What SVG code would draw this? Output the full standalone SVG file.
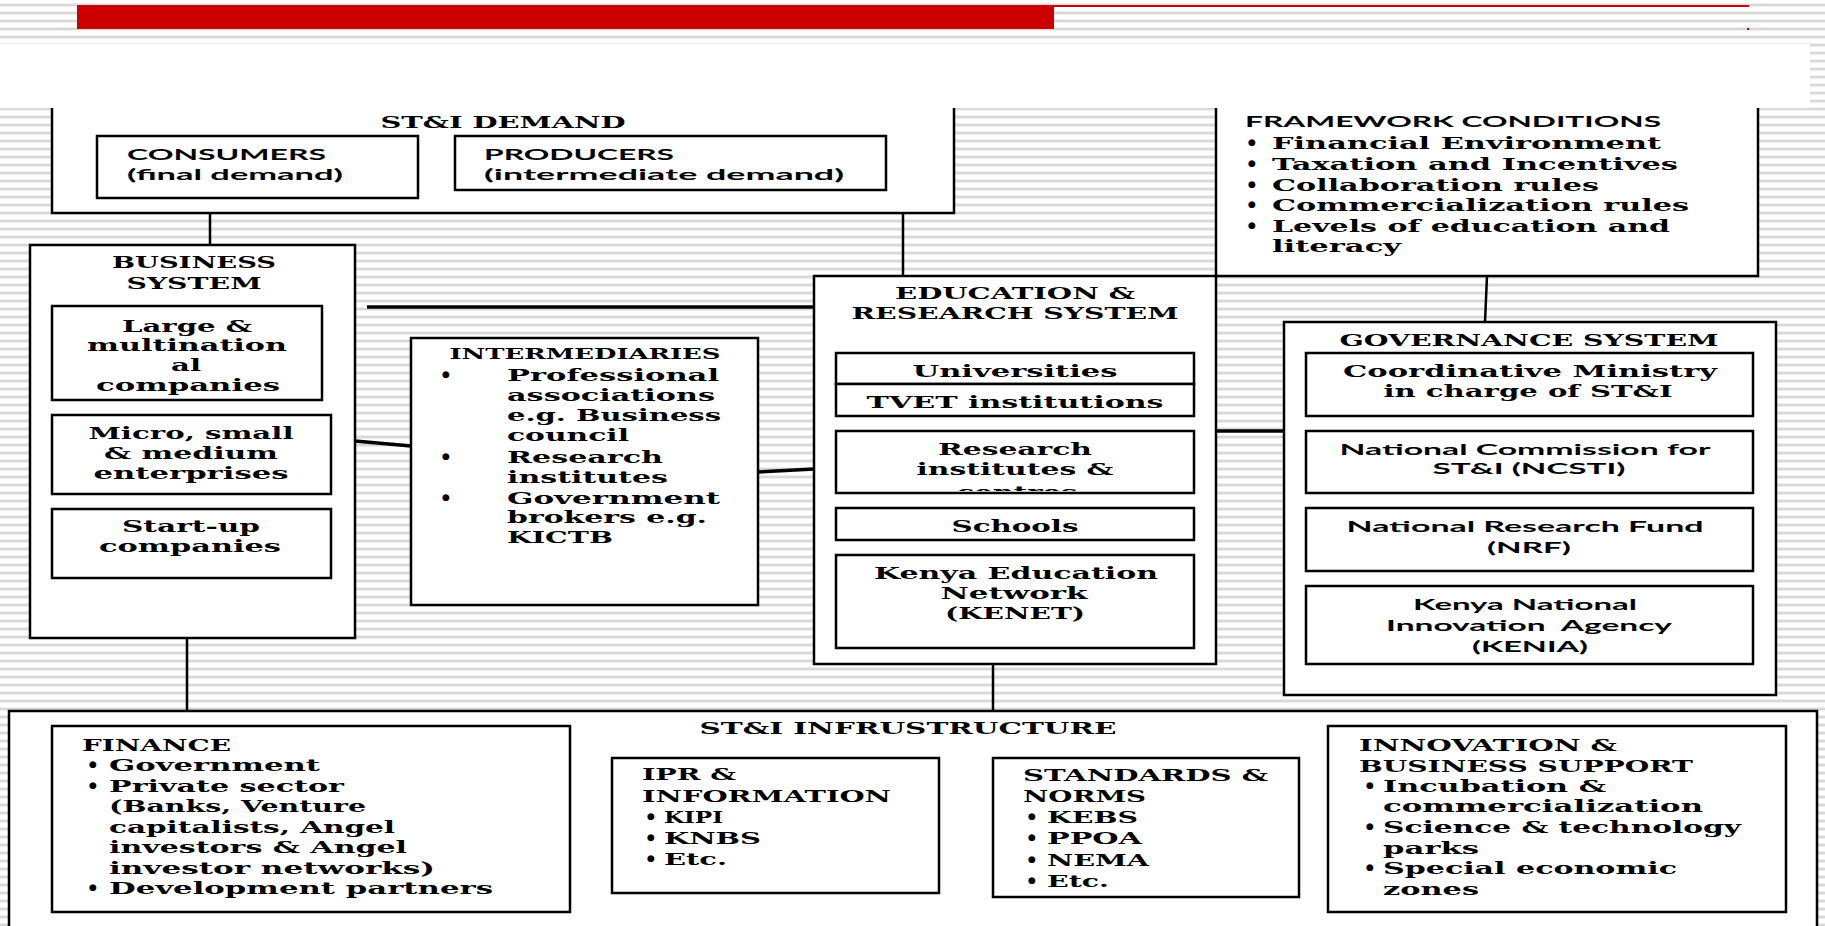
<svg xmlns="http://www.w3.org/2000/svg" width="1825" height="926" viewBox="0 0 1825 926">
<style>
.box{fill:#fff;stroke:#000;stroke-width:2.5}
.s{font-family:"DejaVu Serif","Liberation Serif",serif;font-weight:bold;font-size:17px;fill:#000}
.n{font-family:Lato,"Liberation Sans",sans-serif;font-weight:bold;font-size:16px;fill:#000}
.c{text-anchor:middle}
.sm{font-size:15px}
.b{font-family:"DejaVu Sans",sans-serif;font-size:9px;text-anchor:middle;fill:#000}
.ln{stroke:#000;stroke-width:2.5;fill:none}
.th{stroke-width:3.5}
</style>
<defs>
<pattern id="stripes" patternUnits="userSpaceOnUse" width="8" height="8">
<rect width="8" height="8" fill="#fff"/>
<rect y="3" width="8" height="1" fill="#eeeeee"/>
<rect y="4" width="8" height="2" fill="#d9d9d9"/>
<rect y="6" width="8" height="1" fill="#eeeeee"/>
</pattern>
<clipPath id="clipRes"><rect x="837" y="432" width="356" height="59"/></clipPath>
</defs>
<rect width="1825" height="926" fill="url(#stripes)"/>

<g id="connectors">
<line class="ln" x1="210" y1="213" x2="210" y2="245"/>
<line class="ln" x1="903" y1="213" x2="903" y2="276"/>
<line class="ln th" x1="367" y1="307" x2="814" y2="307"/>
<line class="ln th" x1="355" y1="441" x2="411" y2="446"/>
<line class="ln th" x1="758" y1="472" x2="814" y2="469"/>
<line class="ln th" x1="1216" y1="431" x2="1284" y2="431"/>
<line class="ln" x1="1487" y1="276" x2="1485" y2="322"/>
<line class="ln" x1="187" y1="634" x2="187" y2="711"/>
<line class="ln" x1="993" y1="664" x2="993" y2="711"/>
</g>

<g id="demand">
<rect class="box" x="52" y="90" width="902" height="123"/>
<text class="s c" x="503" y="128" textLength="245" lengthAdjust="spacingAndGlyphs">ST&amp;I DEMAND</text>
</g>
<g id="consumers">
<rect class="box" x="97" y="136" width="321" height="62"/>
<text class="n" x="127" y="160" textLength="199" lengthAdjust="spacingAndGlyphs">CONSUMERS</text>
<text class="n" x="127" y="180" textLength="216" lengthAdjust="spacingAndGlyphs">(final demand)</text>
</g>
<g id="producers">
<rect class="box" x="455" y="136" width="431" height="54"/>
<text class="n" x="484" y="160" textLength="190" lengthAdjust="spacingAndGlyphs">PRODUCERS</text>
<text class="n" x="484" y="180" textLength="360" lengthAdjust="spacingAndGlyphs">(intermediate demand)</text>
</g>

<g id="framework">
<rect class="box" x="1216" y="90" width="542" height="186"/>
<text class="n sm" x="1245" y="127" textLength="416" lengthAdjust="spacingAndGlyphs">FRAMEWORK CONDITIONS</text>
<text class="b" x="1252" y="145">●</text>
<text class="b" x="1252" y="166">●</text>
<text class="b" x="1252" y="187">●</text>
<text class="b" x="1252" y="207">●</text>
<text class="b" x="1252" y="228">●</text>
<text class="s" x="1272" y="149" textLength="389" lengthAdjust="spacingAndGlyphs">Financial Environment</text>
<text class="s" x="1272" y="170" textLength="406" lengthAdjust="spacingAndGlyphs">Taxation and Incentives</text>
<text class="s" x="1272" y="191" textLength="327" lengthAdjust="spacingAndGlyphs">Collaboration rules</text>
<text class="s" x="1272" y="211" textLength="417" lengthAdjust="spacingAndGlyphs">Commercialization rules</text>
<text class="s" x="1272" y="232" textLength="398" lengthAdjust="spacingAndGlyphs">Levels of education and</text>
<text class="s" x="1272" y="252" textLength="129" lengthAdjust="spacingAndGlyphs">literacy</text>
</g>

<g id="business">
<rect class="box" x="30" y="245" width="325" height="393"/>
<text class="s c" x="194" y="268" textLength="164" lengthAdjust="spacingAndGlyphs">BUSINESS</text>
<text class="s c" x="194" y="289" textLength="135" lengthAdjust="spacingAndGlyphs">SYSTEM</text>
</g>
<g id="large">
<rect class="box" x="52" y="306" width="270" height="94"/>
<text class="s c" x="187" y="332" textLength="130" lengthAdjust="spacingAndGlyphs">Large &amp;</text>
<text class="s c" x="187" y="351" textLength="200" lengthAdjust="spacingAndGlyphs">multination</text>
<text class="s c" x="186" y="371" textLength="30" lengthAdjust="spacingAndGlyphs">al</text>
<text class="s c" x="188" y="391" textLength="184" lengthAdjust="spacingAndGlyphs">companies</text>
</g>
<g id="msme">
<rect class="box" x="52" y="415" width="279" height="79"/>
<text class="s c" x="191" y="439" textLength="205" lengthAdjust="spacingAndGlyphs">Micro, small</text>
<text class="s c" x="191" y="459" textLength="174" lengthAdjust="spacingAndGlyphs">&amp; medium</text>
<text class="s c" x="191" y="479" textLength="195" lengthAdjust="spacingAndGlyphs">enterprises</text>
</g>
<g id="startup">
<rect class="box" x="52" y="509" width="279" height="69"/>
<text class="s c" x="191" y="532" textLength="138" lengthAdjust="spacingAndGlyphs">Start-up</text>
<text class="s c" x="190" y="552" textLength="182" lengthAdjust="spacingAndGlyphs">companies</text>
</g>

<g id="intermediaries">
<rect class="box" x="411" y="338" width="347" height="267"/>
<text class="s c sm" x="585" y="359" textLength="271" lengthAdjust="spacingAndGlyphs">INTERMEDIARIES</text>
<text class="b" x="446" y="377">●</text>
<text class="b" x="446" y="459">●</text>
<text class="b" x="446" y="500">●</text>
<text class="s" x="507" y="381" textLength="212" lengthAdjust="spacingAndGlyphs">Professional</text>
<text class="s" x="507" y="401" textLength="208" lengthAdjust="spacingAndGlyphs">associations</text>
<text class="s" x="507" y="421" textLength="214" lengthAdjust="spacingAndGlyphs">e.g. Business</text>
<text class="s" x="507" y="441" textLength="122" lengthAdjust="spacingAndGlyphs">council</text>
<text class="s" x="507" y="463" textLength="156" lengthAdjust="spacingAndGlyphs">Research</text>
<text class="s" x="507" y="483" textLength="161" lengthAdjust="spacingAndGlyphs">institutes</text>
<text class="s" x="507" y="504" textLength="213" lengthAdjust="spacingAndGlyphs">Government</text>
<text class="s" x="507" y="523" textLength="200" lengthAdjust="spacingAndGlyphs">brokers e.g.</text>
<text class="s" x="507" y="543" textLength="106" lengthAdjust="spacingAndGlyphs">KICTB</text>
</g>

<g id="education">
<rect class="box" x="814" y="276" width="402" height="388"/>
<text class="s c" x="1015" y="299" textLength="240" lengthAdjust="spacingAndGlyphs">EDUCATION &amp;</text>
<text class="s c" x="1015" y="319" textLength="327" lengthAdjust="spacingAndGlyphs">RESEARCH SYSTEM</text>
</g>
<g id="universities">
<rect class="box" x="836" y="353" width="358" height="31"/>
<text class="s c" x="1015" y="377" textLength="205" lengthAdjust="spacingAndGlyphs">Universities</text>
</g>
<g id="tvet">
<rect class="box" x="836" y="384" width="358" height="32"/>
<text class="s c" x="1015" y="408" textLength="297" lengthAdjust="spacingAndGlyphs">TVET institutions</text>
</g>
<g id="research">
<rect class="box" x="836" y="431" width="358" height="62"/>
<text class="s c" x="1015" y="455" textLength="154" lengthAdjust="spacingAndGlyphs">Research</text>
<text class="s c" x="1015" y="475" textLength="197" lengthAdjust="spacingAndGlyphs">institutes &amp;</text>
<text class="s c" x="1017" y="498" textLength="121" lengthAdjust="spacingAndGlyphs" clip-path="url(#clipRes)">centres</text>
</g>
<g id="schools">
<rect class="box" x="836" y="508" width="358" height="32"/>
<text class="s c" x="1015" y="532" textLength="127" lengthAdjust="spacingAndGlyphs">Schools</text>
</g>
<g id="kenet">
<rect class="box" x="836" y="555" width="358" height="93"/>
<text class="s c" x="1016" y="579" textLength="284" lengthAdjust="spacingAndGlyphs">Kenya Education</text>
<text class="s c" x="1014" y="599" textLength="147" lengthAdjust="spacingAndGlyphs">Network</text>
<text class="s c" x="1015" y="619" textLength="140" lengthAdjust="spacingAndGlyphs">(KENET)</text>
</g>

<g id="governance">
<rect class="box" x="1284" y="322" width="492" height="373"/>
<text class="s c" x="1529" y="346" textLength="379" lengthAdjust="spacingAndGlyphs">GOVERNANCE SYSTEM</text>
</g>
<g id="ministry">
<rect class="box" x="1306" y="353" width="447" height="63"/>
<text class="s c" x="1530" y="377" textLength="374" lengthAdjust="spacingAndGlyphs">Coordinative Ministry</text>
<text class="s c" x="1528" y="397" textLength="289" lengthAdjust="spacingAndGlyphs">in charge of ST&amp;I</text>
</g>
<g id="ncsti">
<rect class="box" x="1306" y="431" width="447" height="62"/>
<text class="n c" x="1525" y="455" textLength="371" lengthAdjust="spacingAndGlyphs">National Commission for</text>
<text class="n c" x="1529" y="474" textLength="193" lengthAdjust="spacingAndGlyphs">ST&amp;I (NCSTI)</text>
</g>
<g id="nrf">
<rect class="box" x="1306" y="508" width="447" height="63"/>
<text class="n c" x="1525" y="532" textLength="357" lengthAdjust="spacingAndGlyphs">National Research Fund</text>
<text class="n c" x="1529" y="553" textLength="84" lengthAdjust="spacingAndGlyphs">(NRF)</text>
</g>
<g id="kenia">
<rect class="box" x="1306" y="586" width="447" height="78"/>
<text class="n c" x="1525" y="610" textLength="224" lengthAdjust="spacingAndGlyphs">Kenya National</text>
<text class="n c" x="1529" y="631" textLength="286" lengthAdjust="spacingAndGlyphs" style="white-space:pre">Innovation  Agency</text>
<text class="n c" x="1530" y="652" textLength="116" lengthAdjust="spacingAndGlyphs">(KENIA)</text>
</g>

<g id="infrastructure">
<rect class="box" x="9" y="711" width="1808" height="240"/>
<text class="s c" x="908" y="734" textLength="417" lengthAdjust="spacingAndGlyphs">ST&amp;I INFRUSTRUCTURE</text>
</g>
<g id="finance">
<rect class="box" x="52" y="726" width="518" height="186"/>
<text class="s" x="82" y="751" textLength="149" lengthAdjust="spacingAndGlyphs">FINANCE</text>
<text class="b" x="93" y="767">●</text>
<text class="b" x="93" y="788">●</text>
<text class="b" x="93" y="890">●</text>
<text class="s" x="109" y="771" textLength="211" lengthAdjust="spacingAndGlyphs">Government</text>
<text class="s" x="109" y="792" textLength="235" lengthAdjust="spacingAndGlyphs">Private sector</text>
<text class="s" x="109" y="812" textLength="257" lengthAdjust="spacingAndGlyphs">(Banks, Venture</text>
<text class="s" x="109" y="833" textLength="286" lengthAdjust="spacingAndGlyphs">capitalists, Angel</text>
<text class="s" x="109" y="853" textLength="298" lengthAdjust="spacingAndGlyphs">investors &amp; Angel</text>
<text class="s" x="109" y="874" textLength="326" lengthAdjust="spacingAndGlyphs">investor networks)</text>
<text class="s" x="109" y="894" textLength="384" lengthAdjust="spacingAndGlyphs">Development partners</text>
</g>
<g id="ipr">
<rect class="box" x="612" y="758" width="327" height="135"/>
<text class="s" x="642" y="780" textLength="94" lengthAdjust="spacingAndGlyphs">IPR &amp;</text>
<text class="s" x="642" y="802" textLength="249" lengthAdjust="spacingAndGlyphs">INFORMATION</text>
<text class="b" x="651" y="819">●</text>
<text class="b" x="651" y="840">●</text>
<text class="b" x="651" y="861">●</text>
<text class="s" x="664" y="823" textLength="59" lengthAdjust="spacingAndGlyphs">KIPI</text>
<text class="s" x="664" y="844" textLength="97" lengthAdjust="spacingAndGlyphs">KNBS</text>
<text class="s" x="664" y="865" textLength="63" lengthAdjust="spacingAndGlyphs">Etc.</text>
</g>
<g id="standards">
<rect class="box" x="993" y="758" width="306" height="139"/>
<text class="s" x="1023" y="781" textLength="245" lengthAdjust="spacingAndGlyphs">STANDARDS &amp;</text>
<text class="s" x="1023" y="802" textLength="123" lengthAdjust="spacingAndGlyphs">NORMS</text>
<text class="b" x="1032" y="819">●</text>
<text class="b" x="1032" y="840">●</text>
<text class="b" x="1032" y="862">●</text>
<text class="b" x="1032" y="883">●</text>
<text class="s" x="1047" y="823" textLength="91" lengthAdjust="spacingAndGlyphs">KEBS</text>
<text class="s" x="1047" y="844" textLength="95" lengthAdjust="spacingAndGlyphs">PPOA</text>
<text class="s" x="1047" y="866" textLength="102" lengthAdjust="spacingAndGlyphs">NEMA</text>
<text class="s" x="1047" y="887" textLength="62" lengthAdjust="spacingAndGlyphs">Etc.</text>
</g>
<g id="innovation">
<rect class="box" x="1328" y="726" width="458" height="186"/>
<text class="s" x="1359" y="751" textLength="258" lengthAdjust="spacingAndGlyphs">INNOVATION &amp;</text>
<text class="s" x="1359" y="772" textLength="334" lengthAdjust="spacingAndGlyphs">BUSINESS SUPPORT</text>
<text class="b" x="1370" y="788">●</text>
<text class="b" x="1370" y="829">●</text>
<text class="b" x="1370" y="870">●</text>
<text class="s" x="1383" y="792" textLength="223" lengthAdjust="spacingAndGlyphs">Incubation &amp;</text>
<text class="s" x="1383" y="812" textLength="320" lengthAdjust="spacingAndGlyphs">commercialization</text>
<text class="s" x="1383" y="833" textLength="358" lengthAdjust="spacingAndGlyphs">Science &amp; technology</text>
<text class="s" x="1383" y="854" textLength="96" lengthAdjust="spacingAndGlyphs">parks</text>
<text class="s" x="1383" y="874" textLength="294" lengthAdjust="spacingAndGlyphs">Special economic</text>
<text class="s" x="1383" y="895" textLength="96" lengthAdjust="spacingAndGlyphs">zones</text>
</g>

<g id="header">
<rect x="0" y="44" width="1810" height="64" fill="#fff"/>
<rect x="77" y="5" width="977" height="24" fill="#cc0000"/>
<rect x="77" y="5" width="1672" height="2" fill="#cc0000"/>
<rect x="1747" y="28" width="2" height="2" fill="#cc0000"/>
</g>
</svg>
